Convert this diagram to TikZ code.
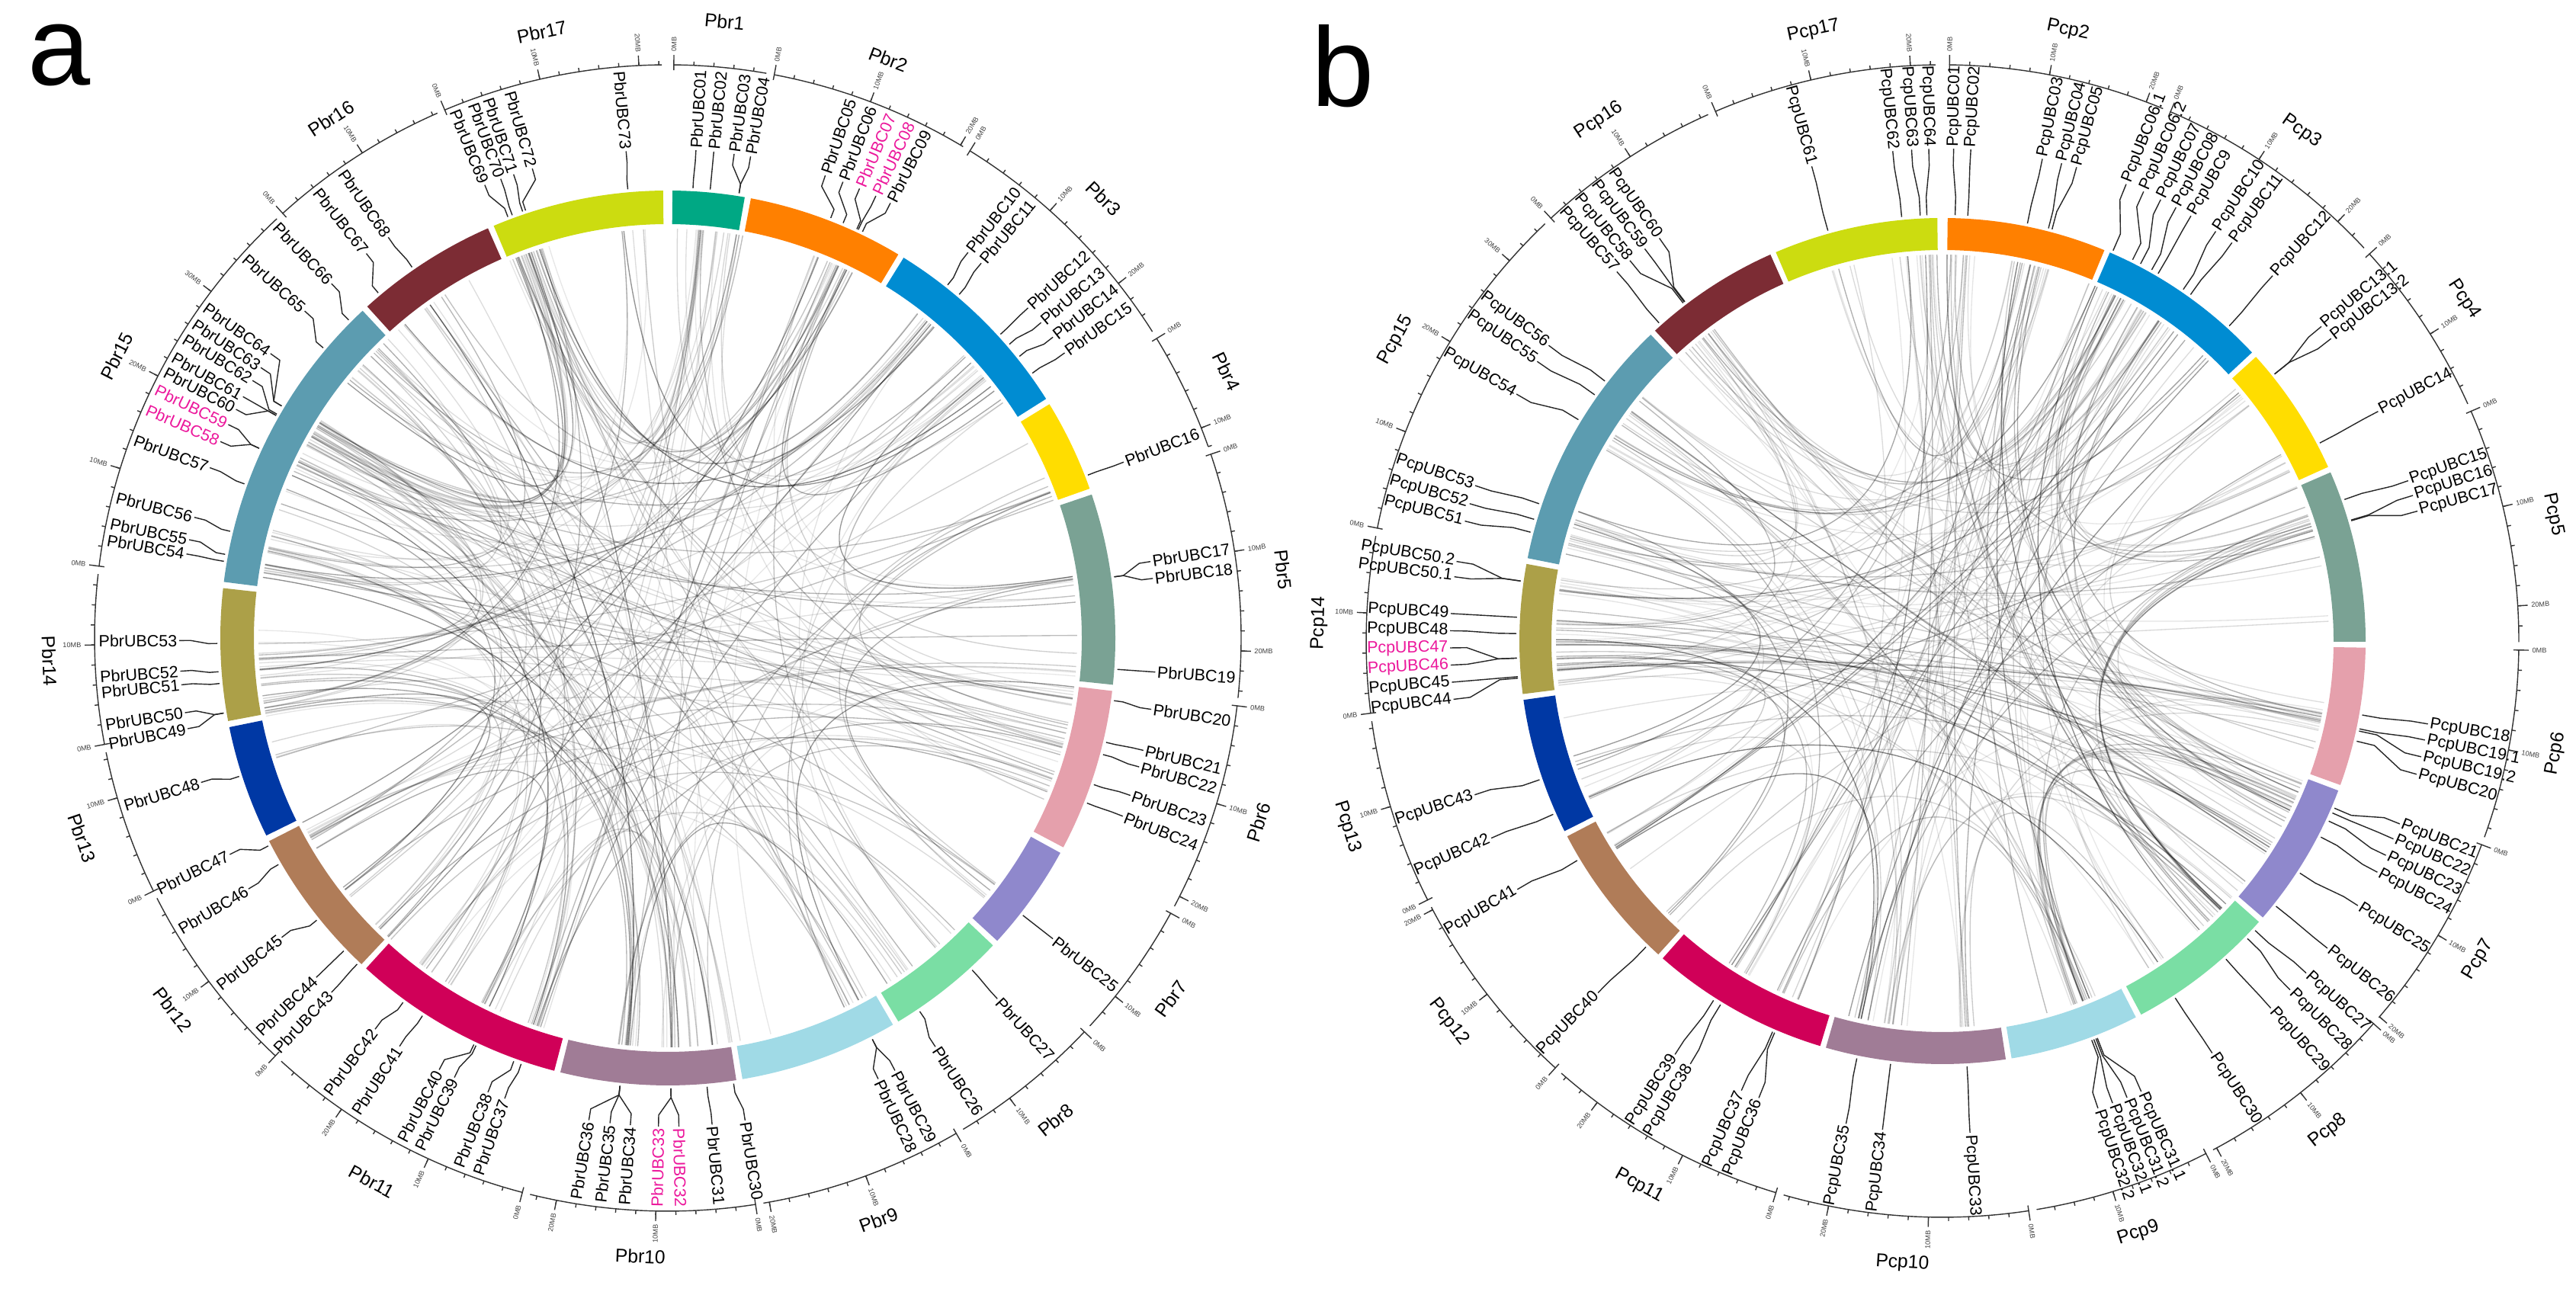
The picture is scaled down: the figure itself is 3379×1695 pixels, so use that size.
\documentclass[tikz,border=0pt]{standalone}
\usepackage{fontspec}
\setmainfont{Liberation Sans}
\definecolor{c1}{RGB}{0,168,132}
\definecolor{c2}{RGB}{255,128,0}
\definecolor{c3}{RGB}{0,140,210}
\definecolor{c4}{RGB}{255,221,0}
\definecolor{c5}{RGB}{122,162,148}
\definecolor{c6}{RGB}{229,160,172}
\definecolor{c7}{RGB}{143,136,204}
\definecolor{c8}{RGB}{122,222,164}
\definecolor{c9}{RGB}{160,218,230}
\definecolor{c10}{RGB}{160,124,150}
\definecolor{c11}{RGB}{208,0,88}
\definecolor{c12}{RGB}{176,124,88}
\definecolor{c13}{RGB}{0,56,164}
\definecolor{c14}{RGB}{172,160,72}
\definecolor{c15}{RGB}{92,156,176}
\definecolor{c16}{RGB}{124,44,52}
\definecolor{c17}{RGB}{204,220,16}
\definecolor{mag}{RGB}{236,24,156}

\newcommand\DrawChroms[1]{%
  \foreach \chs/\che/\chc/\chn in {#1} {
    \pgfmathsetmacro\angS{90-\chs}
    \pgfmathsetmacro\angE{90-\che}
    \fill[\chc] (\angS:\Rout) arc[start angle=\angS, end angle=\angE, radius=\Rout]
      -- (\angE:\Rin) arc[start angle=\angE, end angle=\angS, radius=\Rin] -- cycle;
    \draw[scaleline] (\angS:\Rshook) -- (\angS:\Rs) arc[start angle=\angS, end angle=\angE, radius=\Rs];
    \pgfmathtruncatemacro\nmin{floor((\che-\chs)/2)}
    \foreach \mk in {1,...,\nmin} {
      \pgfmathsetmacro\ta{90-\chs-2*\mk}
      \draw[scaleline] (\ta:\Rs) -- (\ta:\Rsmin);
    }
    \pgfmathtruncatemacro\nmaj{floor((\che-\chs)/10)}
    \foreach \mk in {0,...,\nmaj} {
      \pgfmathsetmacro\tb{\chs+10*\mk}
      \pgfmathsetmacro\ta{90-\tb}
      \pgfmathtruncatemacro\mb{10*\mk}
      \ifdim\tb pt<180pt \def\anc{west}\pgfmathsetmacro\rot{\ta}\else\def\anc{east}\pgfmathsetmacro\rot{\ta+180}\fi
      \draw[scaleline] (\ta:\Rs) -- (\ta:\Rsmaj);
      \node[ticklab, rotate=\rot, anchor=\anc] (tk-\chn-\mk) at (\ta:\Rslab) {\mb MB};
    }
    \pgfmathsetmacro\cmid{(\chs+\che)/2}
    \pgfmathsetmacro\crot{ifthenelse(\cmid<90,-\cmid,ifthenelse(\cmid<270,180-\cmid,360-\cmid))}
    \pgfmathsetmacro\ma{90-\cmid}
    \node[chrlab, rotate=\crot] (\chn) at (\ma:\Rchr) {\chn};
  }}

\newcommand\DrawGenes[1]{%
  \foreach \xn/\xg/\xl/\xt/\xc in {#1} {
    \pgfmathsetmacro\ga{90-\xg}
    \pgfmathsetmacro\la{90-\xl}
    \ifdim\xl pt<180pt \def\anc{west}\pgfmathsetmacro\rot{\la}\else\def\anc{east}\pgfmathsetmacro\rot{\la+180}\fi
    \coordinate (\xn-g) at (\ga:\rA);
    \node[glab, text=\xc, rotate=\rot, anchor=\anc] (\xn) at (\la:\rD) {\xt};
    \draw[conn] (\xn-g) -- (\ga:\rB) -- (\la:\rC) -- (\xn);
  }}

\newcommand\DrawLinks[2]{%
  \edef\linkarr{{#1}}
  \foreach \linkg in #1 {
    \foreach \linkk in {1,2,3} {
      \pgfmathtruncatemacro\lj{floor(rnd*#2)}
      \pgfmathsetmacro\lh{\linkarr[\lj]+(rnd-0.5)*4}
      \pgfmathsetmacro\lgg{\linkg+(rnd-0.5)*3}
      \pgfmathsetmacro\ld{abs(mod(\lh-\lgg+540,360)-180)}
      \pgfmathsetmacro\lh{ifthenelse(\ld<25,\lh+160,\lh)}
      \pgfmathsetmacro\lop{0.09+0.42*rnd*rnd}
      \pgfmathsetmacro\pa{90-\lgg}
      \pgfmathsetmacro\pb{90-\lh}
      \draw[link, draw opacity=\lop] (\pa:\RL) .. controls (\pa:\RC) and (\pb:\RC) .. (\pb:\RL);
    }}}

\def\gAlist{3.2,5.4,9.1,9.1,21.2,22.9,24.8,25.0,25.6,38.4,40.3,47.6,49.3,51.3,54.0,68.8,82.2,82.2,94.0,98.0,103.4,105.0,109.0,111.5,128.0,137.5,146.0,153.0,153.0,171.6,175.0,179.6,179.6,186.1,186.1,186.1,199.0,200.0,205.2,205.5,213.0,216.0,223.6,226.0,231.2,239.8,242.5,252.1,260.4,260.4,264.2,265.7,269.3,279.8,280.7,283.7,290.0,294.9,294.9,299.6,299.6,299.8,301.0,301.0,310.1,314.9,320.0,325.4,339.2,339.8,341.2,341.6,354.9}
\def\gBlist{1.7,3.4,11.5,14.4,14.9,23.6,26.5,27.7,29.4,30.4,34.4,35.6,42.3,51.2,51.2,62.3,70.6,73.5,73.6,100.0,101.9,102.2,103.6,113.1,113.8,115.0,117.4,123.0,128.5,132.8,134.3,138.3,146.9,158.7,158.9,159.2,159.5,176.7,187.0,191.6,203.2,203.5,211.4,212.5,224.1,239.0,246.0,251.0,265.0,265.2,267.7,267.7,271.0,273.2,278.1,278.1,284.8,286.6,288.8,301.3,305.3,307.6,318.3,322.5,322.7,322.8,344.4,354.5,357.0,357.9}

\begin{document}
\begin{tikzpicture}[x=0.01cm,y=0.01cm,
  glab/.style={font=\fontsize{6.1}{7}\selectfont, inner sep=0.6pt},
  conn/.style={line width=0.4pt, black!85, line join=round},
  chrlab/.style={font=\fontsize{7}{8}\selectfont, inner sep=0pt},
  ticklab/.style={font=\fontsize{2.6}{3}\selectfont, inner sep=0.3pt, text=black!75},
  scaleline/.style={line width=0.4pt, black!80},
  link/.style={line width=0.38pt, black},
  panellab/.style={font=\fontsize{42}{44}\selectfont, inner sep=0pt}]
\fill[white] (0,0) rectangle (3379,1695);
\useasboundingbox (0,0) rectangle (3379,1695);
\pgfmathsetseed{4711}

\node[panellab, anchor=base west] (letA) at (36,1583) {a};
\node[panellab, anchor=base west] (letB) at (1720,1555) {b};

% ---------------- panel a ----------------
\begin{scope}[shift={(876,858)}]
\def\Rin{543}\def\Rout{587}\def\RL{537}\def\RC{175}
\def\rA{591}\def\rB{603}\def\rC{626}\def\rD{641}
\def\Rs{752}\def\Rshook{745}\def\Rsmin{757}\def\Rsmaj{765}\def\Rslab{768}\def\Rchr{812}
\DrawLinks{\gAlist}{73}
\DrawChroms{0.6/9.9/c1/Pbr1, 10.7/31.0/c2/Pbr2, 31.8/57.7/c3/Pbr3, 58.5/70.5/c4/Pbr4,
 71.3/96.0/c5/Pbr5, 96.8/117.9/c6/Pbr6, 118.7/132.6/c7/Pbr7, 133.4/149.0/c8/Pbr8,
 149.8/170.4/c9/Pbr9, 171.2/193.9/c10/Pbr10, 194.7/222.4/c11/Pbr11, 223.2/243.0/c12/Pbr12,
 243.8/258.5/c13/Pbr13, 259.3/276.4/c14/Pbr14, 277.2/317.0/c15/Pbr15, 317.8/336.3/c16/Pbr16,
 337.1/359.4/c17/Pbr17}
\DrawGenes{a01/3.2/3.3/PbrUBC01/black, a02/5.4/5.4/PbrUBC02/black, a03/9.1/7.8/PbrUBC03/black,
 a04/9.1/9.75/PbrUBC04/black, a05/21.2/18.8/PbrUBC05/black, a06/22.9/21.0/PbrUBC06/black,
 a07/24.8/23.1/PbrUBC07/mag, a08/25.0/25.2/PbrUBC08/mag, a09/25.6/27.1/PbrUBC09/black,
 a10/38.4/37.9/PbrUBC10/black, a11/40.3/39.9/PbrUBC11/black, a12/47.6/47.5/PbrUBC12/black,
 a13/49.3/49.8/PbrUBC13/black, a14/51.3/52.0/PbrUBC14/black, a15/54.0/54.3/PbrUBC15/black,
 a16/68.8/68.9/PbrUBC16/black, a17/82.2/81.0/PbrUBC17/black, a18/82.2/83.0/PbrUBC18/black,
 a19/94.0/94.0/PbrUBC19/black, a20/98.0/98.4/PbrUBC20/black, a21/103.4/103.3/PbrUBC21/black,
 a22/105.0/105.3/PbrUBC22/black, a23/109.0/108.8/PbrUBC23/black, a24/111.5/111.4/PbrUBC24/black,
 a25/128.0/128.0/PbrUBC25/black, a27/137.5/137.6/PbrUBC27/black, a26/146.0/146.8/PbrUBC26/black,
 a29/153.0/152.3/PbrUBC29/black, a28/153.0/154.5/PbrUBC28/black, a30/171.6/170.9/PbrUBC30/black,
 a31/175.0/174.8/PbrUBC31/black, a32/179.6/178.7/PbrUBC32/mag, a33/179.6/181.1/PbrUBC33/mag,
 a34/186.1/184.4/PbrUBC34/black, a35/186.1/186.8/PbrUBC35/black, a36/186.1/189.3/PbrUBC36/black,
 a37/199.0/199.5/PbrUBC37/black, a38/200.0/201.6/PbrUBC38/black, a39/205.2/205.9/PbrUBC39/black,
 a40/205.5/207.9/PbrUBC40/black, a41/213.0/213.3/PbrUBC41/black, a42/216.0/216.8/PbrUBC42/black,
 a43/223.6/223.5/PbrUBC43/black, a44/226.0/226.0/PbrUBC44/black, a45/231.2/232.2/PbrUBC45/black,
 a46/239.8/239.1/PbrUBC46/black, a47/242.5/243.7/PbrUBC47/black, a48/252.1/252.8/PbrUBC48/black,
 a49/260.4/259.3/PbrUBC49/black, a50/260.4/261.2/PbrUBC50/black, a51/264.2/264.5/PbrUBC51/black,
 a52/265.7/266.1/PbrUBC52/black, a53/269.3/269.7/PbrUBC53/black, a54/279.8/279.9/PbrUBC54/black,
 a55/280.7/281.6/PbrUBC55/black, a56/283.7/284.3/PbrUBC56/black, a57/290.0/290.4/PbrUBC57/black,
 a58/294.9/293.7/PbrUBC58/mag, a59/294.9/295.9/PbrUBC59/mag, a60/299.6/297.9/PbrUBC60/black,
 a61/299.6/299.6/PbrUBC61/black, a62/299.8/301.8/PbrUBC62/black, a63/301.0/303.6/PbrUBC63/black,
 a64/301.0/305.6/PbrUBC64/black, a65/310.1/312.0/PbrUBC65/black, a66/314.9/316.5/PbrUBC66/black,
 a67/320.0/321.9/PbrUBC67/black, a68/325.4/325.1/PbrUBC68/black, a69/339.2/338.0/PbrUBC69/black,
 a70/339.8/340.0/PbrUBC70/black, a71/341.2/341.6/PbrUBC71/black, a72/341.6/343.9/PbrUBC72/black,
 a73/354.9/355.1/PbrUBC73/black}
\end{scope}

% ---------------- panel b ----------------
\begin{scope}[shift={(2548,854)}]
\def\Rin{513}\def\Rout{555}\def\RL{507}\def\RC{165}
\def\rA{559}\def\rB{583}\def\rC{624}\def\rD{646}
\def\Rs{756}\def\Rshook{749}\def\Rsmin{761}\def\Rsmaj{769}\def\Rslab{772}\def\Rchr{818}
\DrawLinks{\gBlist}{70}
\DrawChroms{0.7/22.5/c2/Pcp2, 23.3/47.0/c3/Pcp3, 47.8/65.7/c4/Pcp4, 66.5/90.1/c5/Pcp5,
 90.9/109.9/c6/Pcp6, 110.7/130.8/c7/Pcp7, 131.6/152.0/c8/Pcp8, 152.8/170.6/c9/Pcp9,
 171.4/196.0/c10/Pcp10, 196.8/221.4/c11/Pcp11, 222.2/242.5/c12/Pcp12, 243.3/262.0/c13/Pcp13,
 262.8/280.5/c14/Pcp14, 281.3/316.4/c15/Pcp15, 317.2/336.0/c16/Pcp16, 336.8/359.3/c17/Pcp17}
\DrawGenes{b01/1.7/1.3/PcpUBC01/black, b02/3.4/3.3/PcpUBC02/black, b03/11.5/11.7/PcpUBC03/black,
 b04/14.4/14.0/PcpUBC04/black, b05/14.9/15.8/PcpUBC05/black, b06p1/23.6/21.9/PcpUBC06.1/black,
 b06p2/26.5/24.1/PcpUBC06.2/black, b07/27.7/26.3/PcpUBC07/black, b08/29.4/28.3/PcpUBC08/black,
 b09/30.4/30.3/PcpUBC9/black, b10/34.4/33.7/PcpUBC10/black, b11/35.6/36.0/PcpUBC11/black,
 b12/42.3/42.1/PcpUBC12/black, b13p1/51.2/50.3/PcpUBC13.1/black, b13p2/51.2/52.1/PcpUBC13.2/black,
 b14/62.3/62.2/PcpUBC14/black, b15/70.6/71.0/PcpUBC15/black, b16/73.5/72.8/PcpUBC16/black,
 b17/73.6/74.7/PcpUBC17/black, b18/100.0/99.7/PcpUBC18/black, b19p1/101.9/101.6/PcpUBC19.1/black,
 b19p2/102.2/103.6/PcpUBC19.2/black, b20/103.6/105.7/PcpUBC20/black, b21/113.1/111.8/PcpUBC21/black,
 b22/113.8/113.7/PcpUBC22/black, b23/115.0/115.8/PcpUBC23/black, b24/117.4/118.0/PcpUBC24/black,
 b25/123.0/122.5/PcpUBC25/black, b26/128.5/128.6/PcpUBC26/black, b27/132.8/132.4/PcpUBC27/black,
 b28/134.3/135.1/PcpUBC28/black, b29/138.3/138.2/PcpUBC29/black, b30/146.9/146.8/PcpUBC30/black,
 b31p1/158.7/156.2/PcpUBC31.1/black, b31p2/158.9/158.0/PcpUBC31.2/black,
 b32p1/159.2/159.8/PcpUBC32.1/black, b32p2/159.5/161.6/PcpUBC32.2/black,
 b33/176.7/176.8/PcpUBC33/black, b34/187.0/187.0/PcpUBC34/black, b35/191.6/191.3/PcpUBC35/black,
 b36/203.2/201.9/PcpUBC36/black, b37/203.5/204.1/PcpUBC37/black, b38/211.4/210.8/PcpUBC38/black,
 b39/212.5/212.9/PcpUBC39/black, b40/224.1/224.4/PcpUBC40/black, b41/239.0/239.7/PcpUBC41/black,
 b42/246.0/246.4/PcpUBC42/black, b43/251.0/251.8/PcpUBC43/black, b44/265.0/263.2/PcpUBC44/black,
 b45/265.2/265.2/PcpUBC45/black, b46/267.7/267.2/PcpUBC46/mag, b47/267.7/269.2/PcpUBC47/mag,
 b48/271.0/271.2/PcpUBC48/black, b49/273.2/273.2/PcpUBC49/black, b50p1/278.1/277.5/PcpUBC50.1/black,
 b50p2/278.1/279.3/PcpUBC50.2/black, b51/284.8/284.1/PcpUBC51/black, b52/286.6/286.2/PcpUBC52/black,
 b53/288.8/288.4/PcpUBC53/black, b54/301.3/300.1/PcpUBC54/black, b55/305.3/304.6/PcpUBC55/black,
 b56/307.6/306.9/PcpUBC56/black, b57/318.3/318.6/PcpUBC57/black, b58/322.5/320.6/PcpUBC58/black,
 b59/322.7/322.8/PcpUBC59/black, b60/322.8/324.9/PcpUBC60/black, b61/344.4/344.6/PcpUBC61/black,
 b62/354.5/354.2/PcpUBC62/black, b63/357.0/356.4/PcpUBC63/black, b64/357.9/358.4/PcpUBC64/black}
\end{scope}
\end{tikzpicture}
\end{document}
